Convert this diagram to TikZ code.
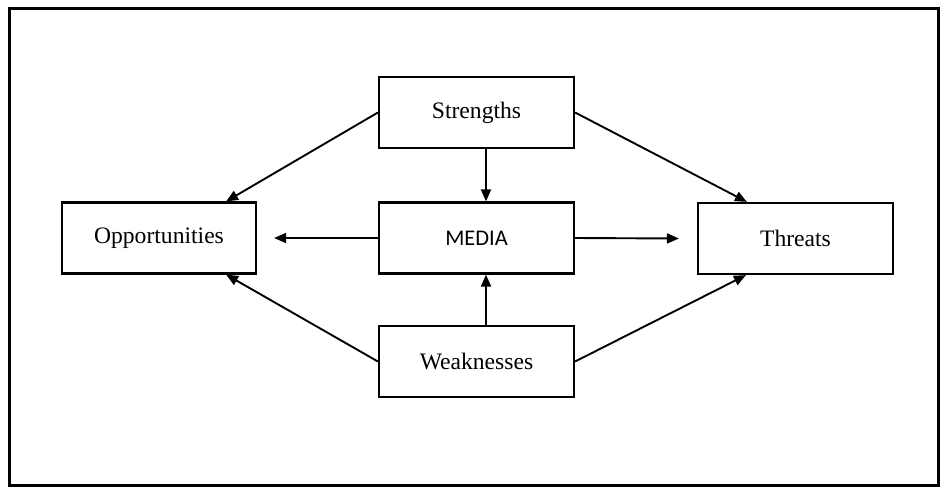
\documentclass[tikz,border=0pt]{standalone}
\usepackage{fontspec}
\setmainfont{Liberation Serif}
\newfontfamily\mediafont{Carlito}
\usetikzlibrary{arrows.meta, calc}

\begin{document}
\begin{tikzpicture}[
        x=0.5pt, y=-0.5pt,
        box/.style={draw, line width=1.1pt, minimum width=97.5pt, minimum height=35.5pt, inner sep=0pt},
        link/.style={line width=0.95pt, -{Triangle[length=6pt, width=5pt]}},
        every node/.style={font=\fontsize{11.8}{13}\selectfont}
    ]
        \useasboundingbox (0,0) rectangle (940,487);
        \draw[line width=1.5pt] (9,8) rectangle (938.5,485);

        \node[box] (strengths) at (476.5,112.5) {Strengths};
        \node[box] (media) at (476.5,238) {\mediafont\fontsize{11.2}{13}\selectfont MEDIA};
        \node[box] (weak) at (476.5,361.5) {Weaknesses};
        \node[box, minimum width=97pt] (opp) at (159,238) {Opportunities};
        \node[box] (threats) at (795.5,238.5) {Threats};

        \draw[link] (strengths.west) -- ([xshift=-15.5pt]opp.north east);
        \draw[link] (strengths.east) -- ([xshift=25pt]threats.north west);
        \draw[link] ([xshift=4.75pt]strengths.south) -- ([xshift=4.75pt]media.north);
        \draw[link] (media.west) -- ([xshift=8.5pt]opp.east);
        \draw[link] (media.east) -- ([xshift=-9pt]threats.west);
        \draw[link] ([xshift=4.75pt]weak.north) -- ([xshift=4.75pt]media.south);
        \draw[link] (weak.west) -- ([xshift=-15.5pt]opp.south east);
        \draw[link] (weak.east) -- ([xshift=24.5pt]threats.south west);
    \end{tikzpicture}
\end{document}
